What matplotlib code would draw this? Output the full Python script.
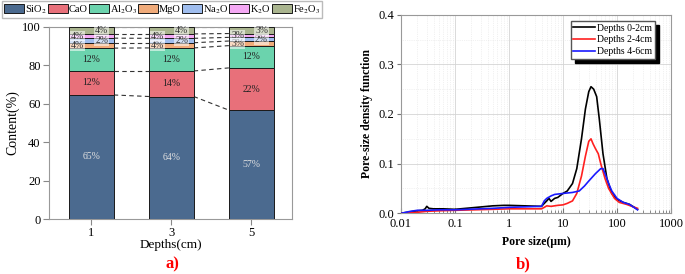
import numpy as np
import matplotlib
matplotlib.use("Agg")
import matplotlib.pyplot as plt
from matplotlib.ticker import LogLocator, NullFormatter, FixedLocator, FormatStrFormatter

plt.rcParams['font.family'] = ['Liberation Serif', 'DejaVu Serif']
plt.rcParams['mathtext.fontset'] = 'stix'

# ---- panel a) oxide composition by depth ----
depths = ["1", "3", "5"]
oxides = ["SiO$_2$", "CaO", "Al$_2$O$_3$", "MgO", "Na$_2$O", "K$_2$O", "Fe$_2$O$_3$"]
sio2 = [64.6, 63.8, 56.7]
cao = [12.5, 13.3, 22.0]
al2o3 = [11.9, 12.0, 11.6]
mgo = [2.8, 2.7, 2.4]
na2o = [2.4, 2.3, 1.9]
k2o = [2.2, 2.3, 2.0]
fe2o3 = [3.6, 3.6, 3.4]
# percent labels printed on the bars
lab_sio2 = ["65%", "64%", "57%"]
lab_cao = ["12%", "14%", "22%"]
lab_al2o3 = ["12%", "12%", "12%"]
lab_mgo = ["4%", "4%", "3%"]
lab_na2o = ["2%", "2%", "2%"]
lab_k2o = ["4%", "4%", "3%"]
lab_fe2o3 = ["4%", "4%", "3%"]

colors = ["#4b6a8f", "#e8707a", "#6bd3ad", "#f0ab7a", "#9fbdee", "#f4a8f4", "#a9b48e"]

# ---- panel b) pore size distribution ----
x_02 = [0.01, 0.015, 0.02, 0.025, 0.028, 0.03, 0.033, 0.04, 0.06, 0.1, 0.2, 0.5, 0.8, 1, 2, 4,
        4.5, 5, 5.5, 6, 7, 8, 10, 12, 15, 18, 22, 26, 30, 33, 37, 42, 47, 55, 65, 80, 100, 130, 170, 240]
y_02 = [0.0, 0.003, 0.005, 0.006, 0.009, 0.014, 0.010, 0.009, 0.009, 0.008, 0.011, 0.015, 0.016, 0.016, 0.015, 0.014,
        0.020, 0.025, 0.030, 0.024, 0.030, 0.032, 0.040, 0.045, 0.060, 0.090, 0.150, 0.210, 0.245, 0.255, 0.250, 0.235,
        0.190, 0.120, 0.070, 0.040, 0.028, 0.022, 0.018, 0.008]
x_24 = [0.01, 0.02, 0.03, 0.05, 0.1, 0.5, 1, 4, 4.5, 5, 6, 8, 10, 12, 15, 18, 22, 26, 30, 33, 36, 40,
        45, 50, 60, 70, 90, 110, 150, 200, 240]
y_24 = [0.0, 0.002, 0.004, 0.005, 0.006, 0.008, 0.009, 0.009, 0.012, 0.015, 0.014, 0.016, 0.017, 0.020, 0.025,
        0.040, 0.075, 0.115, 0.145, 0.150, 0.140, 0.130, 0.120, 0.100, 0.070, 0.050, 0.030, 0.022, 0.018, 0.013, 0.010]
x_46 = [0.01, 0.015, 0.02, 0.03, 0.05, 0.1, 0.5, 1, 4, 4.5, 5, 6, 7, 10, 15, 20, 25, 30, 40, 50, 55,
        60, 70, 80, 100, 130, 170, 240]
y_46 = [0.0, 0.004, 0.006, 0.006, 0.007, 0.007, 0.010, 0.012, 0.014, 0.025, 0.030, 0.035, 0.038, 0.040, 0.042,
        0.045, 0.055, 0.065, 0.080, 0.090, 0.090, 0.080, 0.060, 0.045, 0.030, 0.022, 0.018, 0.007]

fig = plt.figure(figsize=(6.85, 2.74), dpi=100)
ax1 = fig.add_axes([49 / 685, 55 / 274, 243 / 685, 192 / 274])
ax2 = fig.add_axes([401 / 685, 60.7 / 274, 270 / 685, 198.6 / 274])

# stacked bars
series = [sio2, cao, al2o3, mgo, na2o, k2o, fe2o3]
labels = [lab_sio2, lab_cao, lab_al2o3, lab_mgo, lab_na2o, lab_k2o, lab_fe2o3]
pos = np.arange(len(depths))
w = 0.56
bottom = np.zeros(len(depths))
tops = []
for i, (vals, name) in enumerate(zip(series, oxides)):
    vals = np.array(vals)
    ax1.bar(pos, vals, w, bottom=bottom, color=colors[i], edgecolor="#1a1a1a", linewidth=0.7,
            label=name, zorder=3)
    for j in range(len(depths)):
        yc = bottom[j] + vals[j] / 2
        if i == 0:
            ax1.text(pos[j], yc, labels[i][j], ha="center", va="center", fontsize=7, color="#e0e0e0", zorder=5)
        elif i < 3:
            ax1.text(pos[j], yc, labels[i][j], ha="center", va="center", fontsize=7, color="#222222", zorder=5)
        else:
            dx = -0.17 if i in (3, 5) else 0.13
            ax1.text(pos[j] + dx, yc, labels[i][j], ha="center", va="center", fontsize=7, color="#333333",
                     zorder=5, bbox=dict(boxstyle="square,pad=0.1", fc="white", ec="none", alpha=0.55))
    bottom = bottom + vals
    tops.append(bottom.copy())

# dashed connectors between neighbouring bars
for t in tops:
    for j in range(len(depths) - 1):
        ax1.plot([pos[j] + w / 2, pos[j + 1] - w / 2], [t[j], t[j + 1]], ls=(0, (4, 3)),
                 color="#333333", lw=0.8, zorder=2)

ax1.set_xlim(-0.53, 2.51)
ax1.set_ylim(0, 100)
ax1.set_xticks(pos)
ax1.set_xticklabels(depths)
ax1.set_yticks([0, 20, 40, 60, 80, 100])
ax1.tick_params(labelsize=9, length=4, width=0.8, color="#888888", pad=2)
ax1.set_xlabel("Depths(cm)", fontsize=9.5, labelpad=0)
ax1.set_ylabel("Content(%)", fontsize=10, labelpad=2)
for s in ax1.spines.values():
    s.set_color("#999999")
    s.set_linewidth(0.8)

fig.legend(*ax1.get_legend_handles_labels(), loc="upper left", bbox_to_anchor=(0.002, 1.0), ncol=7,
           fontsize=7.5, frameon=True, fancybox=False, edgecolor="#aaaaaa", handlelength=1.9,
           handleheight=1.0, handletextpad=0.1, columnspacing=0.1, borderpad=0.2, borderaxespad=0.1)

# pore size curves
ax2.plot(x_02, y_02, color="black", lw=1.2, label="Depths 0-2cm", zorder=4)
ax2.plot(x_24, y_24, color="#ff2020", lw=1.2, label="Depths 2-4cm", zorder=4)
ax2.plot(x_46, y_46, color="#1a1aff", lw=1.2, label="Depths 4-6cm", zorder=4)
ax2.set_xscale("log")
ax2.set_xlim(0.01, 1000)
ax2.set_ylim(0, 0.4)
ax2.xaxis.set_major_locator(FixedLocator([0.01, 0.1, 1, 10, 100, 1000]))
ax2.set_xticklabels(["0.01", "0.1", "1", "10", "100", "1000"])
ax2.xaxis.set_minor_locator(LogLocator(base=10, subs=np.arange(2, 10)))
ax2.xaxis.set_minor_formatter(NullFormatter())
ax2.set_yticks([0.0, 0.1, 0.2, 0.3, 0.4])
ax2.set_yticks([0.05, 0.15, 0.25, 0.35], minor=True)
ax2.yaxis.set_major_formatter(FormatStrFormatter("%.1f"))
ax2.grid(which="major", color="#d4d4d4", lw=0.6)
ax2.grid(which="minor", color="#e4e4e4", lw=0.5, ls=":")
ax2.set_axisbelow(True)
ax2.tick_params(axis="x", which="both", direction="in", color="#777777", labelsize=9)
ax2.tick_params(axis="x", which="minor", length=2.5)
ax2.tick_params(axis="y", which="major", length=3, color="#777777", labelsize=9, pad=2)
ax2.tick_params(axis="y", which="minor", length=0)
ax2.set_xlabel("Pore size(\u03bcm)", fontsize=8.5, fontweight="bold", labelpad=4)
ax2.set_ylabel("Pore-size density function", fontsize=8.5, fontweight="bold", labelpad=4)
for s in ax2.spines.values():
    s.set_color("#999999")
    s.set_linewidth(0.8)
ax2.legend(loc="upper right", bbox_to_anchor=(0.94, 0.97), fontsize=7, fancybox=False,
           edgecolor="#555555", framealpha=1, handlelength=2.2, handletextpad=0.2, borderpad=0.3,
           labelspacing=0.3, borderaxespad=0, shadow={"ox": 3, "oy": -3, "color": "black", "alpha": 1})

fig.text(172 / 685, 1 - 264 / 274, "a)", color="red", fontsize=12, fontweight="bold", ha="center", va="center")
fig.text(523 / 685, 1 - 264 / 274, "b)", color="red", fontsize=12, fontweight="bold", ha="center", va="center")

fig.savefig("out.png", dpi=100)
